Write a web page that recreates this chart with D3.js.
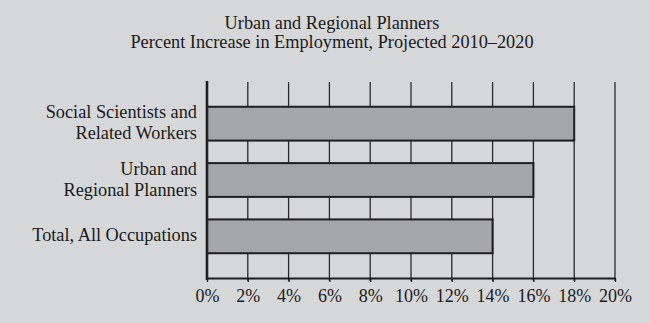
<!DOCTYPE html>
<html><head><meta charset="utf-8">
<script src="https://cdn.jsdelivr.net/npm/d3@7"></script>
<style>html,body{margin:0;padding:0;background:#d6d7d9;}svg{display:block;}</style>
</head><body>
<script>
const titleLines = ["Urban and Regional Planners", "Percent Increase in Employment, Projected 2010\u20132020"];
const categories = ["Social Scientists and\nRelated Workers", "Urban and\nRegional Planners", "Total, All Occupations"];
const values = [18, 16, 14];
const tickValues = [0, 2, 4, 6, 8, 10, 12, 14, 16, 18, 20];

const W = 650, H = 323;
const svg = d3.select("body").append("svg").attr("width", W).attr("height", H);
svg.append("rect").attr("width", W).attr("height", H).attr("fill", "#d6d7d9");
const font = "'Liberation Serif', 'Times New Roman', serif";

const x = d3.scaleLinear().domain([0, 20]).range([207, 615]);
const y = d3.scaleBand().domain(categories).range([82, 278]).paddingInner(0.4).paddingOuter(0.44);

// title
svg.selectAll("text.title").data(titleLines).join("text")
  .attr("class", "title")
  .attr("x", 332).attr("y", (d, i) => 29 + i * 19)
  .attr("text-anchor", "middle")
  .attr("font-family", font).attr("font-size", 18.3).attr("fill", "#1a1a1a")
  .text(d => d);

// grid lines
svg.append("g").selectAll("line").data(tickValues.slice(1)).join("line")
  .attr("x1", d => x(d)).attr("x2", d => x(d))
  .attr("y1", 82).attr("y2", 281)
  .attr("stroke", "#2a2a2a").attr("stroke-width", 1.3);

// bars
svg.append("g").selectAll("rect").data(values).join("rect")
  .attr("x", x(0)).attr("y", (d, i) => y(categories[i]))
  .attr("width", d => x(d) - x(0)).attr("height", y.bandwidth())
  .attr("fill", "#a5a6a8").attr("stroke", "#1e1e1e").attr("stroke-width", 2);

// bottom axis
const xAxis = d3.axisBottom(x).tickValues(tickValues).tickFormat(d => d + "%").tickSize(4).tickSizeOuter(0);
const gx = svg.append("g").attr("transform", "translate(0,278)").call(xAxis);
gx.select(".domain").attr("stroke", "#1e1e1e").attr("stroke-width", 2.2);
gx.selectAll(".tick line").attr("stroke", "#1e1e1e").attr("stroke-width", 1.3);
gx.selectAll(".tick text").attr("font-family", font).attr("font-size", 18).attr("fill", "#1a1a1a").attr("dy", null).attr("y", 24);

// left axis line
svg.append("line").attr("x1", x(0)).attr("x2", x(0)).attr("y1", 81).attr("y2", 280)
  .attr("stroke", "#1e1e1e").attr("stroke-width", 2.6);

// category labels
const lab = svg.append("g").selectAll("text").data(categories).join("text")
  .attr("text-anchor", "end")
  .attr("font-family", font).attr("font-size", 18.3).attr("fill", "#1a1a1a");
lab.each(function(d) {
  const lines = d.split("\n");
  const cy = y(d) + y.bandwidth() / 2;
  const t = d3.select(this);
  lines.forEach((ln, i) => {
    t.append("tspan").attr("x", 197)
      .attr("y", cy + 5 + (i - (lines.length - 1) / 2) * 21)
      .text(ln);
  });
});
</script>
</body></html>
